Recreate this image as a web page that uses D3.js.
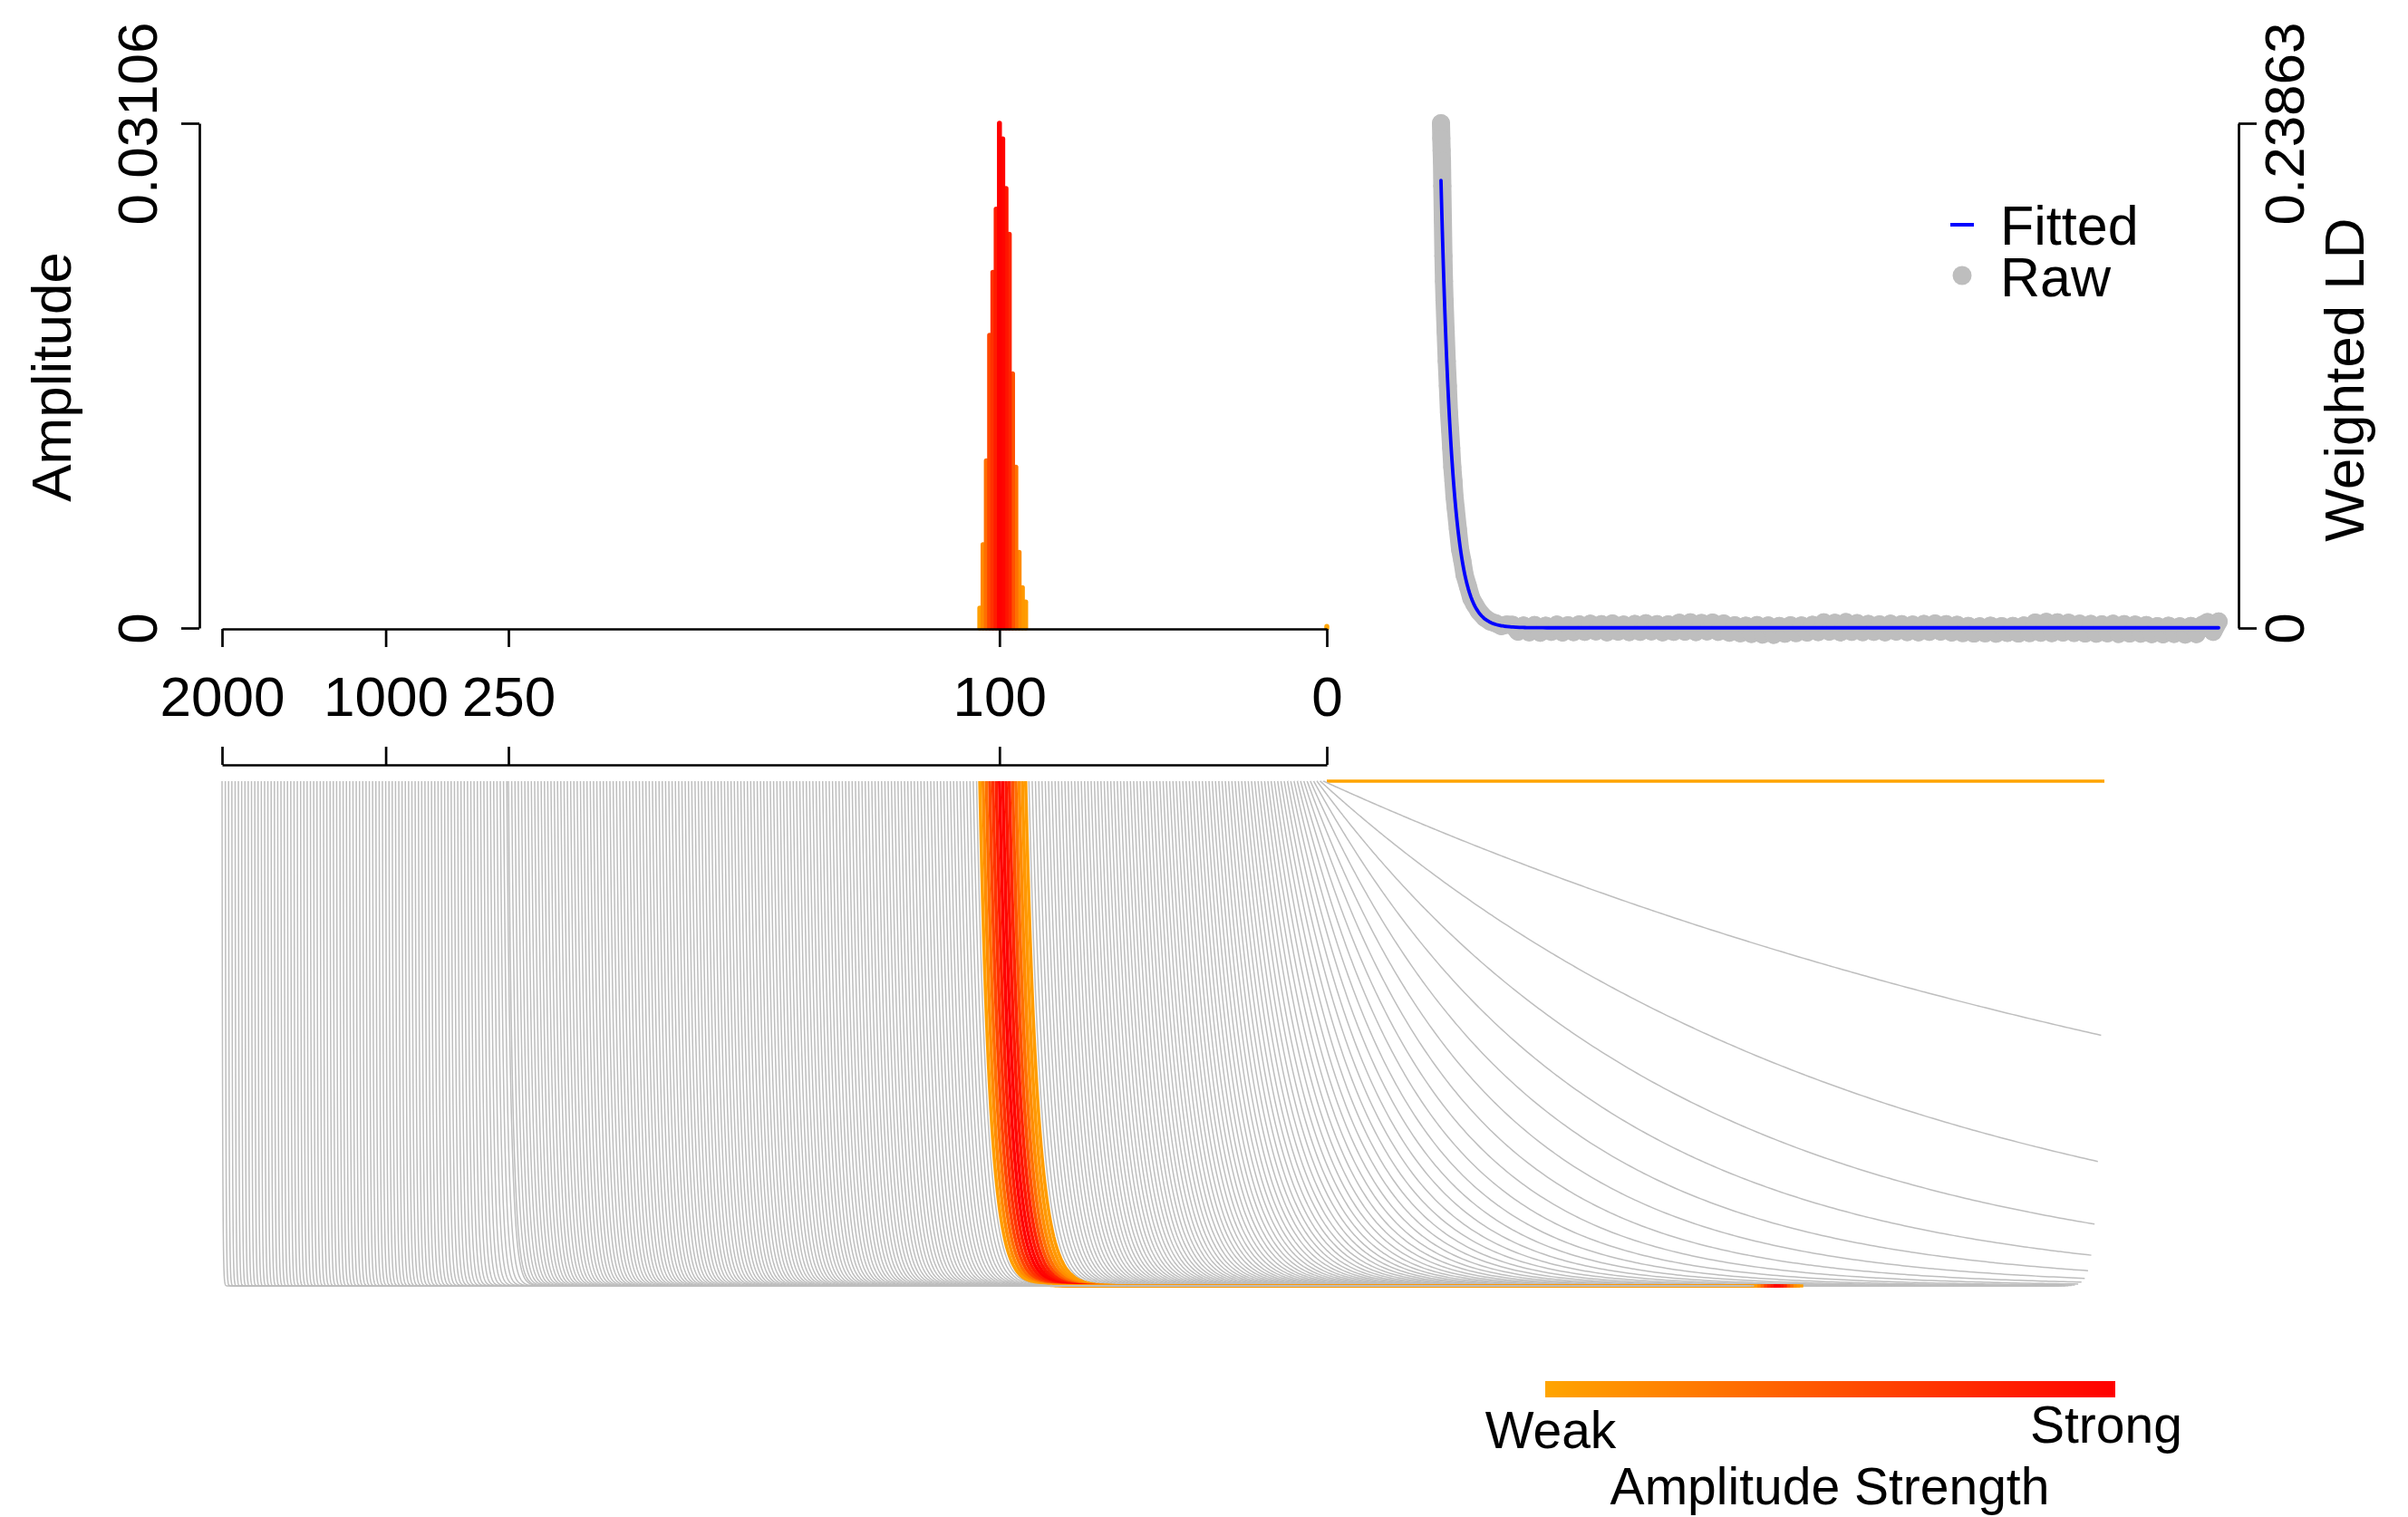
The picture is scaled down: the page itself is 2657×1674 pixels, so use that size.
<!DOCTYPE html>
<html>
<head>
<meta charset="utf-8">
<script src="https://cdn.jsdelivr.net/npm/d3@7"></script>
<style>
  html, body { margin: 0; padding: 0; background: #ffffff; }
  svg { display: block; font-family: "Liberation Sans", Arial, Helvetica, sans-serif; }
</style>
</head>
<body>
<svg id="chart" width="2657" height="1674"></svg>
<script>
// ---------------- DATA ----------------
// Amplitude spectrum over admixture time (generations)
const ampGens   = [0, 92, 93, 94, 95, 96, 97, 98, 99, 100, 101, 102, 103, 104, 105, 106];
const ampValues = [0.0001, 0.0016, 0.00248, 0.00465, 0.0099, 0.01564, 0.02423, 0.02705, 0.0301, 0.03106,
                   0.02577, 0.02189, 0.01801, 0.01029, 0.00513, 0.00122];

// generation axis ticks
const genTicks      = [2000, 1000, 250, 100, 0];
const genTickLabels = ["2000", "1000", "250", "100", "0"];
const ampTicks      = [0, 0.03106];
const ampTickLabels = ["0", "0.03106"];
const ldTicks       = [0, 0.23863];
const ldTickLabels  = ["0", "0.23863"];

// candidate generation grid shown as decay curves (bottom panel)
const gridGens = d3.range(0, 251).concat(d3.range(260, 2001, 20));

// Raw weighted LD (distance in Morgans)
const rawDistHead = [0.0008, 0.0011, 0.0014, 0.0017, 0.0020, 0.0025, 0.0030, 0.0035, 0.0040,
  0.0050, 0.0060, 0.0070, 0.0080, 0.0090, 0.010, 0.011, 0.012, 0.013, 0.014,
  0.016, 0.018, 0.020, 0.022, 0.025, 0.028, 0.031, 0.035, 0.040, 0.045, 0.050, 0.055, 0.060];
const rawLDHead = [0.23863, 0.2315, 0.2258, 0.2207, 0.2090, 0.1930, 0.1760, 0.1640, 0.1550,
  0.1402, 0.1262, 0.1145, 0.1020, 0.0938, 0.0851, 0.0760, 0.0695, 0.0620, 0.0570,
  0.0468, 0.0372, 0.0318, 0.0252, 0.0198, 0.0142, 0.0112, 0.0078, 0.0049, 0.0031, 0.0022, 0.0009, 0.0016];
const rawDistTail = d3.range(128).map(i => +(0.065 + 0.005 * i).toFixed(3));
const rawLDTail = [
  0.0015, -0.0017, 0.0012, -0.0020, 0.0014, -0.0022, 0.0011, -0.0018, 0.0016, -0.0021, 0.0013, -0.0019, 0.0017,
  -0.0018, 0.0020, -0.0016, 0.0018, -0.0020, 0.0021, -0.0017, 0.0016, -0.0019, 0.0019, -0.0018, 0.0022, -0.0016, 0.0018, -0.0020, 0.0017, -0.0018,
  0.0025, -0.0017, 0.0027, -0.0019, 0.0024, -0.0016, 0.0026, -0.0018, 0.0021,
  -0.0022, 0.0013, -0.0025, 0.0011, -0.0028, 0.0014, -0.0031, 0.0012, -0.0032, 0.0010, -0.0027, 0.0013, -0.0024, 0.0012, -0.0021, 0.0015,
  -0.0019, 0.0027, -0.0017, 0.0025, -0.0020, 0.0028, -0.0018, 0.0023, -0.0019,
  0.0019, -0.0018, 0.0017, -0.0020, 0.0020, -0.0017, 0.0018, -0.0019, 0.0016, -0.0020, 0.0019, -0.0018, 0.0021, -0.0017, 0.0018, -0.0021, 0.0015,
  -0.0024, 0.0010, -0.0026, 0.0008, -0.0025, 0.0011, -0.0027, 0.0009, -0.0023, 0.0010, -0.0026, 0.0012, -0.0024,
  0.0026, -0.0022, 0.0029, -0.0024, 0.0027, -0.0021, 0.0025, -0.0023, 0.0020,
  -0.0026, 0.0019, -0.0027, 0.0017, -0.0025, 0.0020, -0.0028, 0.0018, -0.0026, 0.0016, -0.0027, 0.0014,
  -0.0029, 0.0009, -0.0030, 0.0011, -0.0028, 0.0008, -0.0031, 0.0010, -0.0029, 0.0014,
  0.0028, -0.0018, 0.0031];

const legendLabels = ["Fitted", "Raw"];
const colorbarLabels = ["Weak", "Strong"];
const colorbarTitle = "Amplitude Strength";

// ---------------- SETUP ----------------
const svg = d3.select("#chart");
svg.append("rect").attr("width", 2657).attr("height", 1674).attr("fill", "#ffffff");

const FONT = 62;
const GRAY = "#bebebe";
const maxAmp = d3.max(ampValues);
const rawAll = rawLDHead.concat(rawLDTail);
const maxLD = d3.max(rawAll);

const xGen   = d3.scaleLinear().domain([2000, 250, 0]).range([245, 561, 1464]);
const yAmp   = d3.scaleLinear().domain([0, maxAmp]).range([693, 136]);
const xDist  = d3.scaleLinear().domain([0, 0.70]).range([1589, 2448]);
const yLD    = d3.scaleLinear().domain([0, maxLD]).range([693, 136]);
const dOff   = d3.scaleLinear().domain([0, 0.70]).range([0, 858]);
const yDecay = d3.scaleLinear().domain([0, 1]).range([1419, 862]);
const color  = d3.scaleLinear().domain([0, maxAmp]).range(["#FFA500", "#FF0000"]);

// sampling of distance for drawing smooth curves
const dGeo = d3.range(260).map(i => 1e-5 * Math.pow(0.70 / 1e-5, i / 259));
const dLin = d3.range(0, 0.7001, 0.004);
const dSamples = Array.from(new Set([0].concat(dGeo, dLin))).sort((a, b) => a - b).filter(d => d <= 0.70);

const line = d3.line();
const ampPairs = ampGens.map((t, i) => ({ t: t, a: ampValues[i] }));
const ampMap = new Map(ampPairs.map(p => [p.t, p.a]));

// ---------------- BOTTOM PANEL: decay curves (drawn in order of t) ----------------
const gLines = svg.append("g");
gLines.selectAll("path").data(gridGens).join("path")
  .attr("fill", "none")
  .attr("stroke", t => ampMap.has(t) ? color(ampMap.get(t)) : GRAY)
  .attr("stroke-width", t => ampMap.has(t) ? 3.6 : 1.5)
  .attr("d", t => line(dSamples.map(d => [xGen(t) + dOff(d), yDecay(Math.exp(-t * d))])));

// ---------------- TOP-LEFT: amplitude spectrum ----------------
const ampByA = ampPairs.slice().sort((p, q) => p.a - q.a);
svg.append("g").selectAll("line").data(ampByA).join("line")
  .attr("x1", p => xGen(p.t)).attr("x2", p => xGen(p.t))
  .attr("y1", yAmp(0)).attr("y2", p => yAmp(p.a))
  .attr("stroke", p => color(p.a))
  .attr("stroke-width", 5.5)
  .attr("stroke-linecap", "round");

function styleAxis(g) {
  g.select(".domain").attr("stroke", "#000").attr("stroke-width", 2.7);
  g.selectAll(".tick line").attr("stroke", "#000").attr("stroke-width", 2.7);
  g.selectAll("text").attr("font-size", FONT).attr("fill", "#000")
    .attr("font-family", "'Liberation Sans', Arial, Helvetica, sans-serif");
}

// generation axis (below histogram)
const gx1 = svg.append("g").attr("transform", "translate(0,694)")
  .call(d3.axisBottom(xGen).tickValues(genTicks).tickSize(20).tickSizeOuter(0)
    .tickFormat((d, i) => genTickLabels[i]));
styleAxis(gx1);
gx1.selectAll("text").attr("y", 96).attr("dy", null);

// generation axis (above bottom panel)
const gx2 = svg.append("g").attr("transform", "translate(0,844)")
  .call(d3.axisTop(xGen).tickValues(genTicks).tickSize(20).tickSizeOuter(0).tickFormat(""));
styleAxis(gx2);

// amplitude axis
const gyA = svg.append("g").attr("transform", "translate(220,0)")
  .call(d3.axisLeft(yAmp).tickValues(ampTicks).tickSize(20).tickSizeOuter(0)
    .tickFormat((d, i) => ampTickLabels[i]));
styleAxis(gyA);
gyA.selectAll("text").attr("x", 0).attr("y", -47).attr("dy", null)
  .attr("text-anchor", "middle").attr("transform", "rotate(-90)");

svg.append("text").attr("transform", "translate(78,416) rotate(-90)")
  .attr("text-anchor", "middle").attr("font-size", FONT).text("Amplitude");

// ---------------- TOP-RIGHT: weighted LD ----------------
const raw = rawDistHead.concat(rawDistTail).map((d, i) => [d, rawAll[i]]);
const gRaw = svg.append("g");
gRaw.append("path")
  .attr("fill", "none").attr("stroke", GRAY).attr("stroke-width", 20)
  .attr("stroke-linejoin", "round").attr("stroke-linecap", "round")
  .attr("d", line(raw.map(r => [xDist(r[0]), yLD(r[1])])));
gRaw.selectAll("circle").data(raw).join("circle")
  .attr("cx", r => xDist(r[0])).attr("cy", r => yLD(r[1])).attr("r", 10).attr("fill", GRAY);

const d0 = rawDistHead[0];
const fitD = dSamples.filter(d => d > d0);
fitD.unshift(d0);
const fitted = fitD.map(d => [d, d3.sum(ampPairs, p => p.a * Math.exp(-p.t * d))]);
svg.append("path")
  .attr("fill", "none").attr("stroke", "#0000FF").attr("stroke-width", 3.8)
  .attr("stroke-linecap", "round").attr("stroke-linejoin", "round")
  .attr("d", line(fitted.map(f => [xDist(f[0]), yLD(f[1])])));

const gyL = svg.append("g").attr("transform", "translate(2470,0)")
  .call(d3.axisRight(yLD).tickValues(ldTicks).tickSize(20).tickSizeOuter(0)
    .tickFormat((d, i) => ldTickLabels[i]));
styleAxis(gyL);
gyL.selectAll("text").attr("x", 0).attr("y", 72).attr("dy", null)
  .attr("text-anchor", "middle").attr("transform", "rotate(-90)");

svg.append("text").attr("transform", "translate(2608,419) rotate(-90)")
  .attr("text-anchor", "middle").attr("font-size", FONT).text("Weighted LD");

// legend
const gLeg = svg.append("g");
gLeg.append("line").attr("x1", 2152).attr("x2", 2178).attr("y1", 248).attr("y2", 248)
  .attr("stroke", "#0000FF").attr("stroke-width", 4);
gLeg.append("circle").attr("cx", 2165).attr("cy", 304).attr("r", 10.5).attr("fill", GRAY);
gLeg.append("text").attr("x", 2207).attr("y", 270).attr("font-size", 61).text(legendLabels[0]);
gLeg.append("text").attr("x", 2207).attr("y", 327).attr("font-size", 61).text(legendLabels[1]);

// ---------------- COLOR BAR ----------------
const defs = svg.append("defs");
const grad = defs.append("linearGradient").attr("id", "ampgrad").attr("x1", "0%").attr("x2", "100%");
grad.append("stop").attr("offset", "0%").attr("stop-color", color(0));
grad.append("stop").attr("offset", "100%").attr("stop-color", color(maxAmp));
svg.append("rect").attr("x", 1705).attr("y", 1524).attr("width", 629).attr("height", 18)
  .attr("fill", "url(#ampgrad)");
svg.append("text").attr("x", 1711).attr("y", 1598).attr("text-anchor", "middle")
  .attr("font-size", 57).text(colorbarLabels[0]);
svg.append("text").attr("x", 2324).attr("y", 1592).attr("text-anchor", "middle")
  .attr("font-size", 57).text(colorbarLabels[1]);
svg.append("text").attr("x", 2019).attr("y", 1660).attr("text-anchor", "middle")
  .attr("font-size", 57).text(colorbarTitle);
</script>
</body>
</html>
